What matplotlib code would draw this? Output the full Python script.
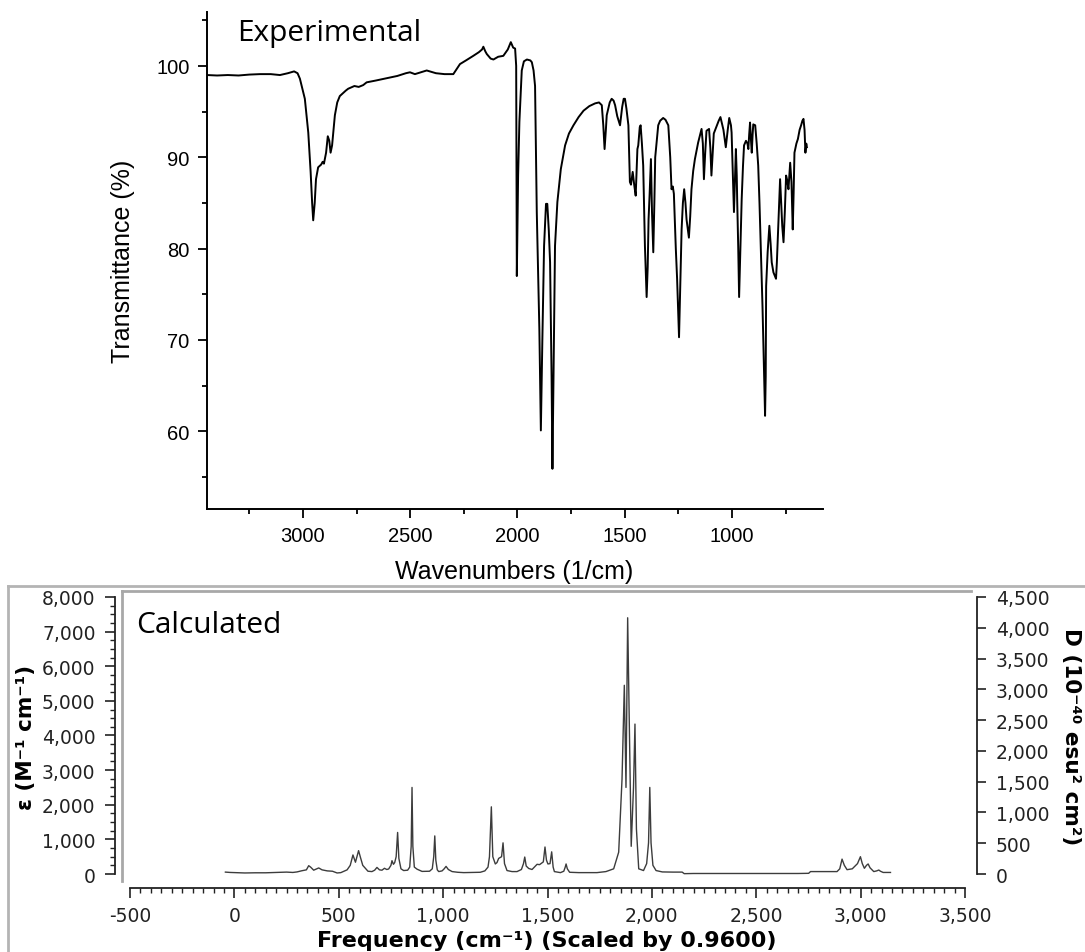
import numpy as np
import matplotlib
matplotlib.use("Agg")
import matplotlib.pyplot as plt
from matplotlib.lines import Line2D
from matplotlib.ticker import FuncFormatter, MultipleLocator

# experimental FTIR trace (wavenumber 1/cm, transmittance %)
exp_wn = [3447, 3400, 3350, 3300, 3250, 3200, 3150, 3107, 3070, 3041, 3025, 3014,
          2991, 2975, 2964, 2957, 2952, 2945, 2939, 2929, 2915, 2908, 2902, 2892,
          2884, 2877, 2871, 2864, 2851, 2840, 2828, 2800, 2789, 2760, 2740, 2719,
          2703, 2660, 2610, 2560, 2520, 2501, 2478, 2450, 2423, 2380, 2340, 2299,
          2268, 2240, 2206, 2180, 2165, 2159, 2150, 2143, 2125, 2112, 2090, 2066,
          2045, 2031, 2020, 2011, 2006, 2003, 1997, 1991, 1980, 1970, 1956, 1940,
          1933, 1925, 1918, 1910, 1898, 1891, 1884, 1876, 1867, 1861, 1854, 1848,
          1841, 1837, 1832, 1825, 1814, 1798, 1778, 1760, 1739, 1715, 1692, 1665,
          1638, 1620, 1607, 1600, 1594, 1588, 1584, 1570, 1561, 1552, 1545, 1535,
          1522, 1512, 1505, 1499, 1492, 1483, 1476, 1471, 1463, 1456, 1449, 1441,
          1437, 1430, 1426, 1420, 1414, 1406, 1398, 1393, 1389, 1384, 1378, 1373,
          1367, 1362, 1358, 1350, 1344, 1335, 1321, 1310, 1297, 1288, 1282, 1276,
          1271, 1262, 1256, 1247, 1241, 1235, 1229, 1223, 1217, 1212, 1201, 1195,
          1189, 1181, 1173, 1158, 1142, 1136, 1131, 1125, 1119, 1107, 1101, 1096,
          1090, 1085, 1070, 1062, 1054, 1040, 1029, 1020, 1013, 1005, 1002, 996,
          991, 986, 982, 978, 976, 971, 967, 961, 955, 949, 944, 935, 928, 924,
          920, 916, 912, 908, 904, 901, 892, 885, 878, 872, 867, 858, 850, 846,
          843, 841, 834, 826, 820, 815, 807, 800, 795, 791, 787, 781, 776, 771,
          766, 760, 754, 748, 743, 737, 733, 729, 723, 717, 713, 709, 700, 693,
          685, 678, 672, 667, 662, 658, 654, 651]
exp_T = [99.0, 98.95, 99.0, 98.95, 99.05, 99.1, 99.1, 99.0, 99.2, 99.4, 99.2, 98.6,
         96.4, 92.7, 88.4, 85.0, 83.1, 85.0, 87.6, 88.9, 89.2, 89.5, 89.3, 90.5,
         92.3, 91.8, 90.5, 91.3, 94.6, 96.0, 96.7, 97.3, 97.5, 97.8, 97.7, 97.9,
         98.2, 98.4, 98.65, 98.9, 99.2, 99.3, 99.1, 99.3, 99.5, 99.2, 99.1, 99.1,
         100.2, 100.6, 101.1, 101.5, 101.8, 102.1, 101.6, 101.3, 100.8, 100.7, 101.0, 101.1,
         101.8, 102.6, 102.0, 101.9, 100.0, 77.0, 88.0, 93.9, 99.5, 100.5, 100.7, 100.6,
         100.4, 99.5, 97.8, 84.0, 71.2, 60.1, 70.0, 80.3, 84.9, 84.9, 82.0, 78.5,
         66.0, 55.9, 66.0, 80.3, 85.1, 88.7, 91.3, 92.6, 93.5, 94.4, 95.1, 95.6,
         95.9, 96.0, 95.7, 93.5, 90.9, 93.0, 94.6, 96.0, 96.4, 96.2, 95.7, 94.5,
         93.5, 95.5, 96.4, 96.4, 95.3, 93.5, 87.3, 87.0, 88.4, 87.0, 85.8, 90.9,
         91.3, 93.3, 93.5, 91.5, 89.1, 80.3, 74.7, 78.0, 83.2, 86.0, 89.8, 84.0,
         79.6, 85.0, 90.0, 92.0, 93.5, 94.0, 94.3, 94.1, 93.5, 90.0, 86.5, 86.8,
         86.0, 80.0, 76.7, 70.3, 76.0, 82.1, 85.0, 86.5, 85.0, 83.2, 81.2, 83.5,
         86.5, 88.5, 89.8, 91.6, 93.1, 91.5, 87.6, 90.5, 92.9, 93.1, 91.0, 88.0,
         90.5, 92.6, 93.5, 94.0, 94.4, 93.0, 91.1, 93.0, 94.3, 93.5, 92.7, 88.0,
         84.0, 88.0, 90.9, 88.0, 85.4, 80.0, 74.7, 80.0, 85.4, 89.0, 91.3, 91.8, 91.5, 90.9,
         92.5, 93.8, 92.0, 90.5, 92.5, 93.6, 93.5, 91.5, 89.1, 85.0, 81.0, 73.7, 66.0, 61.7,
         66.0, 75.9, 79.6, 82.5, 80.5, 78.5, 77.4, 77.0, 76.7, 78.5, 81.0, 85.0, 87.6, 85.0,
         82.5, 80.7, 84.0, 88.0, 87.5, 86.5, 88.0, 89.4, 87.3, 82.1, 86.0, 90.5, 91.5, 92.0,
         93.0, 93.5, 94.0, 94.2, 93.0, 90.5, 91.5, 91.1]

# calculated spectrum (frequency cm-1 scaled by 0.96, epsilon M-1 cm-1)
calc_wn = [-43, -20, 0, 50, 100, 150, 200, 250, 280, 300, 324, 345, 356, 365, 380,
           404, 420, 445, 470, 492, 510, 540, 555, 568, 580, 595, 603, 615, 640, 659,
           672, 683, 695, 707, 719, 730, 739, 750, 755, 762, 768, 775, 782, 788, 798,
           811, 830, 840, 847, 851, 855, 862, 875, 899, 935, 948, 955, 960, 965, 972,
           979, 995, 1005, 1014, 1025, 1043, 1070, 1099, 1140, 1178, 1200, 1215, 1222, 1231,
           1238, 1250, 1258, 1266, 1280, 1287, 1294, 1306, 1330, 1354, 1375, 1385, 1391,
           1398, 1410, 1426, 1440, 1450, 1462, 1469, 1480, 1488, 1495, 1502, 1512, 1520,
           1527, 1533, 1562, 1578, 1585, 1589, 1595, 1606, 1650, 1700, 1737, 1780, 1817,
           1841, 1857, 1868, 1876, 1884, 1901, 1912, 1919, 1926, 1937, 1960, 1975, 1984,
           1990, 1996, 2005, 2020, 2050, 2100, 2145, 2155, 2200, 2300, 2400, 2500, 2600,
           2700, 2751, 2760, 2887, 2900, 2911, 2922, 2935, 2960, 2985, 2999, 3008, 3018,
           3028, 3036, 3045, 3063, 3077, 3087, 3095, 3108, 3143]
calc_eps = [55, 45, 40, 30, 35, 35, 45, 55, 45, 60, 95, 120, 240, 200, 110,
            175, 120, 90, 80, 30, 40, 120, 250, 550, 340, 675, 500, 250, 80, 70,
            110, 190, 120, 110, 165, 130, 145, 250, 385, 280, 330, 500, 1200, 450, 150,
            100, 110, 200, 800, 2500, 800, 200, 140, 75, 80, 150, 500, 1100, 400, 120,
            70, 90, 150, 220, 130, 70, 50, 40, 45, 50, 90, 200, 500, 1940,
            500, 290, 330, 450, 500, 900, 300, 100, 70, 70, 130, 300, 490,
            230, 160, 130, 220, 280, 270, 300, 350, 780, 400, 290, 300, 640,
            200, 70, 40, 80, 200, 290, 150, 50, 40, 40, 40, 70, 150,
            630, 2740, 5450, 2500, 7400, 800, 2500, 4330, 1300, 150, 100, 300, 900,
            2500, 900, 250, 100, 60, 55, 55, 10, 15, 15, 15, 15, 15,
            15, 20, 70, 70, 150, 430, 250, 125, 150, 300, 500, 300, 165,
            250, 290, 180, 70, 90, 115, 80, 45, 45]

W, H = 1085, 953
fig = plt.figure(figsize=(W / 100, H / 100), dpi=100)


def fx(px):
    return px / W


def fy(py):
    return 1 - py / H


# ---------------- experimental panel ----------------
ax1 = fig.add_axes([fx(207), fy(510), fx(823 - 207), (510 - 13) / H])
ax1.plot(exp_wn, exp_T, color="black", lw=1.4)
ax1.set_xlim(3447, 576)
ax1.set_ylim(51.5, 105.9)
for s in ("top", "right"):
    ax1.spines[s].set_visible(False)
for s in ("left", "bottom"):
    ax1.spines[s].set_linewidth(1.4)
ax1.xaxis.set_major_locator(MultipleLocator(500))
ax1.xaxis.set_minor_locator(MultipleLocator(250))
ax1.yaxis.set_major_locator(MultipleLocator(10))
ax1.yaxis.set_minor_locator(MultipleLocator(5))
ax1.tick_params(which="major", direction="out", length=6.5, width=1.3, pad=6,
                labelsize=14.5)
ax1.tick_params(which="minor", direction="out", length=3.8, width=1.3)
for lab in ax1.get_xticklabels() + ax1.get_yticklabels():
    lab.set_fontfamily("Liberation Sans")

fig.text(fx(514), fy(572), "Wavenumbers (1/cm)", family="Liberation Sans",
         fontsize=18, ha="center", va="center")
fig.text(fx(123), fy(261), "Transmittance (%)", family="Liberation Sans",
         fontsize=18, ha="center", va="center", rotation=90)
fig.text(fx(237), fy(41), "Experimental", family="Open Sans", fontsize=21.5,
         ha="left", va="baseline")

# ---------------- calculated panel ----------------
# window frame around the lower plot
frame = dict(transform=fig.transFigure, color="#b4b4b4", lw=2)
fig.add_artist(Line2D([fx(8), 1.0], [fy(587), fy(587)], **frame))
fig.add_artist(Line2D([fx(8), fx(8)], [fy(587), 0], **frame))
inner = dict(transform=fig.transFigure, color="#a8a8a8", lw=2)
fig.add_artist(Line2D([fx(122), fx(971)], [fy(592), fy(592)], **inner))
fig.add_artist(Line2D([fx(122), fx(122)], [fy(592), fy(882)], **inner))

ax2 = fig.add_axes([fx(130), fy(882), fx(965 - 130), (882 - 592) / H])
ax2.patch.set_alpha(0)
ax2.plot(calc_wn, calc_eps, color="#3c3c3c", lw=1.0)
ax2.set_xlim(-500, 3500)
eps_lo, eps_hi = -202, 8173
ax2.set_ylim(eps_lo, eps_hi)

ax3 = ax2.twinx()
d_scale = 4500 / 8000
ax3.set_ylim(eps_lo * d_scale, eps_hi * d_scale)

dark = "#222222"
for s in ("top", "right"):
    ax2.spines[s].set_visible(False)
ax2.spines["left"].set_position(("outward", 10.8))
ax2.spines["left"].set_bounds(0, 8000)
ax2.spines["bottom"].set_position(("outward", 5))
ax2.spines["bottom"].set_bounds(-500, 3500)
for s in ("top", "left", "bottom"):
    ax3.spines[s].set_visible(False)
ax3.spines["right"].set_position(("outward", 8.6))
ax3.spines["right"].set_bounds(0, 4500)
for sp in (ax2.spines["left"], ax2.spines["bottom"], ax3.spines["right"]):
    sp.set_linewidth(1.3)
    sp.set_color(dark)

comma = FuncFormatter(lambda v, p: f"{v:,.0f}")
ax2.xaxis.set_major_locator(MultipleLocator(500))
ax2.xaxis.set_minor_locator(MultipleLocator(50))
ax2.xaxis.set_major_formatter(comma)
ax2.yaxis.set_major_locator(MultipleLocator(1000))
ax2.yaxis.set_minor_locator(MultipleLocator(250))
ax2.yaxis.set_major_formatter(comma)
ax3.yaxis.set_major_locator(MultipleLocator(500))
ax3.yaxis.set_major_formatter(comma)

ax2.tick_params(which="major", direction="out", length=7, width=1.2, pad=6,
                labelsize=13.5, colors=dark)
ax2.tick_params(which="minor", direction="out", length=3.6, width=1.0, colors=dark)
ax2.tick_params(axis="y", which="major", pad=7)
ax3.tick_params(which="major", direction="out", length=6.5, width=1.2, pad=7,
                labelsize=13.5, colors=dark)
ax2.set_yticks([v for v in range(0, 8001, 1000)])
ax3.set_yticks([v for v in range(0, 4501, 500)])
ax2.set_xticks([v for v in range(-500, 3501, 500)])

fig.text(fx(547), fy(941), "Frequency (cm\u207b\u00b9) (Scaled by 0.9600)",
         fontsize=16, fontweight="bold", ha="center", va="center", color="black")
fig.text(fx(26), fy(737), "\u03b5 (M\u207b\u00b9 cm\u207b\u00b9)", fontsize=15.5,
         fontweight="bold", ha="center", va="center", rotation=90)
fig.text(fx(1071), fy(737), "D (10\u207b\u2074\u2070 esu\u00b2 cm\u00b2)", fontsize=15.5,
         fontweight="bold", ha="center", va="center", rotation=270)
fig.text(fx(136), fy(633), "Calculated", family="Open Sans", fontsize=21.5,
         ha="left", va="baseline")

fig.savefig("out.png", dpi=100)
